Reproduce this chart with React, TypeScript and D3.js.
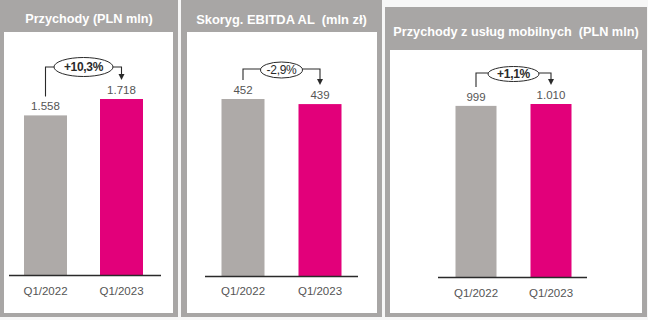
import React from "react";
import * as d3 from "d3";

const categories = ["Q1/2022", "Q1/2023"];
const titles = ["Przychody (PLN mln)", "Skoryg. EBITDA AL  (mln zł)", "Przychody z usług mobilnych  (PLN mln)"];
const revenue = [1558, 1718];
const ebitda = [452, 439];
const mobile = [999, 1010];
const revenueLabels = ["1.558", "1.718"];
const ebitdaLabels = ["452", "439"];
const mobileLabels = ["999", "1.010"];
const changes = ["+10,3%", "-2,9%", "+1,1%"];

const seriesValues = [revenue, ebitda, mobile];
const seriesLabels = [revenueLabels, ebitdaLabels, mobileLabels];

// layout per panel (positions only)
const layouts = [
  { ox: 0, ow: 178, oy: 0, ix: 4, iw: 169, iy: 32, titleY: 19, titleSize: 12.7, baseY: 275, topY: 99, c: [45.5, 121.5], axis: [9, 161], barW: 43, lineY: 67, rx: 29.5, ry: 9.5, labelY: 291, pctBold: true },
  { ox: 181, ow: 201, oy: 0, ix: 187, iw: 190, iy: 32, titleY: 19, titleSize: 12.9, baseY: 276, topY: 99, c: [243, 320], axis: [205, 358], barW: 43, lineY: 69, rx: 21, ry: 8, labelY: 291, pctBold: false },
  { ox: 385, ow: 262, oy: 7, ix: 390, iw: 252, iy: 50, titleY: 32, titleSize: 12.7, baseY: 277, topY: 104, c: [476, 551], axis: [438, 587], barW: 41, lineY: 73, rx: 25.5, ry: 7.5, labelY: 293, pctBold: true },
];

const FRAME = "#a8a6a5";
const BAR_GREY = "#aeaaa8";
const PINK = "#e2007a";
const TEXT = "#555555";
const DARK = "#2a2a2a";
const FONT = "'Liberation Sans', Arial, sans-serif";

function Panel({ idx }: { idx: number }) {
  const L = layouts[idx];
  const vals = seriesValues[idx];
  const labs = seriesLabels[idx];
  const maxV = d3.max(vals) as number;
  const y = d3.scaleLinear().domain([0, maxV]).range([L.baseY, L.topY]);
  const x = d3.scalePoint<string>().domain(categories).range(L.c as [number, number]);
  const x0 = x(categories[0]) as number;
  const x1 = x(categories[1]) as number;
  const cx = (x0 + x1) / 2;
  const top0 = y(vals[0]);
  const top1 = y(vals[1]);
  const tip = top1 - 19;
  const ecy = L.lineY + (idx === 0 ? 0 : 1);
  return (
    <g>
      <rect x={L.ox} y={L.oy} width={L.ow} height={317 - L.oy} fill={FRAME} />
      <rect x={L.ix} y={L.iy} width={L.iw} height={313 - L.iy} fill="#ffffff" />
      <text x={L.ox + L.ow / 2} y={L.titleY} dy="0.35em" textAnchor="middle" fill="#ffffff" fontFamily={FONT} fontWeight="bold" fontSize={L.titleSize} style={{ whiteSpace: "pre" }}>
        {titles[idx]}
      </text>
      {vals.map((v, i) => (
        <rect key={i} x={(x(categories[i]) as number) - L.barW / 2} y={y(v)} width={L.barW} height={L.baseY - y(v)} fill={i === 0 ? BAR_GREY : PINK} />
      ))}
      <line x1={L.axis[0]} x2={L.axis[1]} y1={L.baseY + 0.5} y2={L.baseY + 0.5} stroke={DARK} strokeWidth={1.3} />
      {categories.map((c) => (
        <text key={c} x={x(c) as number} y={L.labelY} dy="0.35em" textAnchor="middle" fill={TEXT} fontFamily={FONT} fontSize={11.5}>
          {c}
        </text>
      ))}
      {vals.map((v, i) => (
        <text key={"v" + i} x={x(categories[i]) as number} y={y(v) - 9} dy="0.35em" textAnchor="middle" fill={TEXT} fontFamily={FONT} fontSize={11.5}>
          {labs[i]}
        </text>
      ))}
      <path d={`M${x0},${top0 - 19} V${L.lineY} H${x1} V${tip - 5}`} fill="none" stroke={DARK} strokeWidth={1.1} />
      <path d={`M${x1 - 3},${tip - 6} L${x1 + 3},${tip - 6} L${x1},${tip} Z`} fill={DARK} />
      <ellipse cx={cx} cy={ecy} rx={L.rx} ry={L.ry} fill="#ffffff" stroke={DARK} strokeWidth={1} />
      <text x={cx} y={ecy} dy="0.36em" textAnchor="middle" fill={DARK} fontFamily={FONT} fontWeight={L.pctBold ? "bold" : "normal"} fontSize={12} letterSpacing={-0.3}>
        {changes[idx]}
      </text>
    </g>
  );
}

export default function App() {
  return (
    <svg width={648} height={320} style={{ position: "absolute", left: 0, top: 0 }}>
      <rect x={0} y={0} width={648} height={320} fill="#f7f7f7" />
      {layouts.map((_, i) => (
        <Panel key={i} idx={i} />
      ))}
    </svg>
  );
}
